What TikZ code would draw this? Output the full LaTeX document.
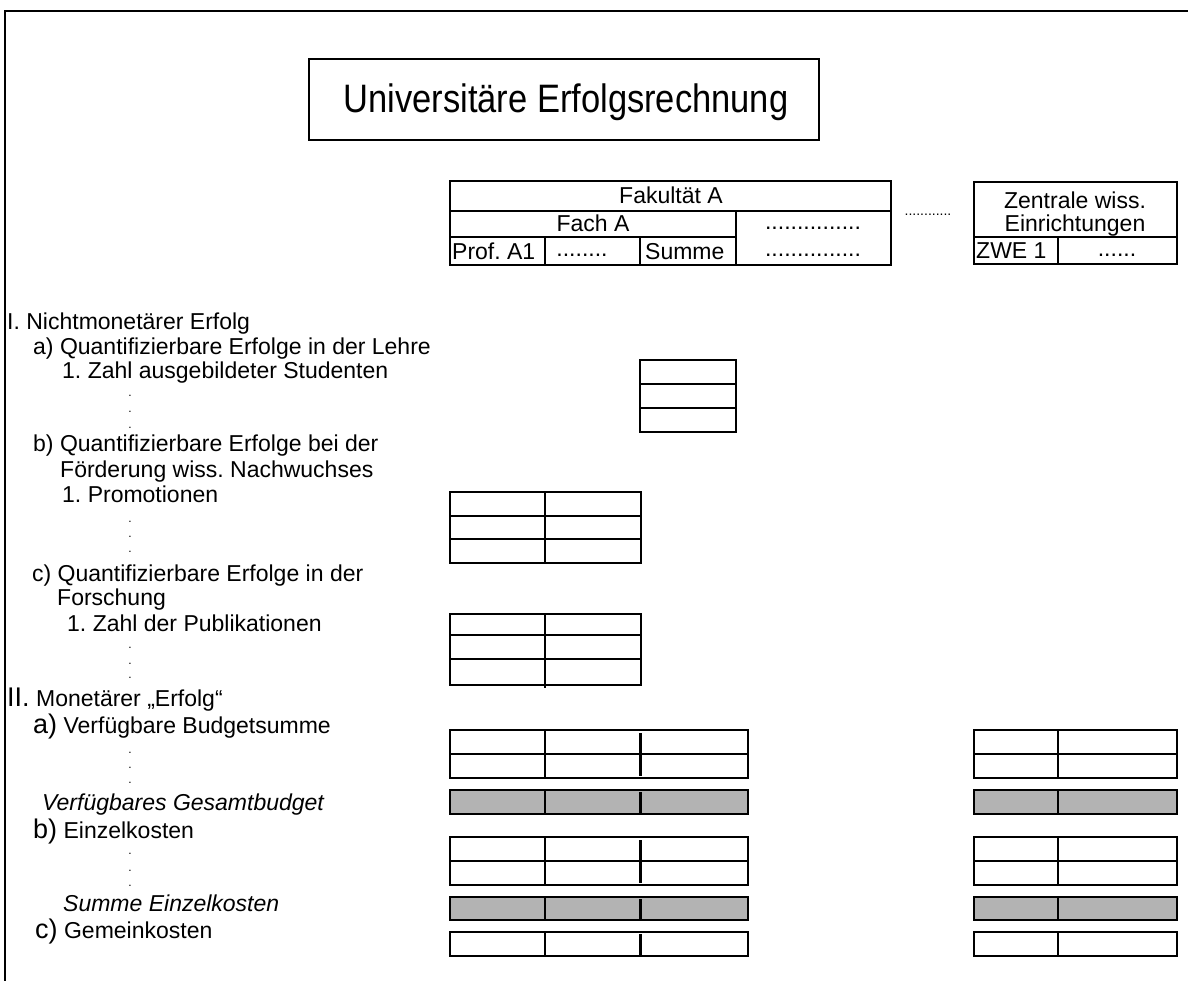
\documentclass[tikz,border=0pt]{standalone}
\usepackage{fontspec}
\usepackage{graphicx}
\setmainfont{Liberation Sans}
\frenchspacing
\newcommand{\fsz}[1]{\fontsize{#1}{#1}\selectfont\frenchspacing}
\definecolor{cellgray}{RGB}{179,179,179}
\begin{document}
\begin{tikzpicture}[x=1pt,y=-1pt,
  tbl/.style={line width=1.2pt, draw=black},
  thickdiv/.style={line width=3pt, draw=black},
  grayrow/.style={tbl, fill=cellgray},
  lbl/.style={anchor=base west, inner sep=0pt, font=\fsz{23}},
  clbl/.style={anchor=base, inner sep=0pt, font=\fsz{23}},
  vdot/.style={anchor=base, inner sep=0pt, font=\fsz{12}}]
\useasboundingbox (0,0) rectangle (1188,981);
% frame
\draw[line width=2pt] (5,981) -- (5,11) -- (1188,11);
% title
\draw[tbl] (309,59) rectangle (819,140);
\node[anchor=base, inner sep=0pt, font=\fsz{34.5}] (title) at (566,113) {\scalebox{1}[1.15]{Universitäre Erfolgsrechnung}};
% Fakultaet header table
\draw[tbl] (450,181) rectangle (891,265);
\draw[tbl] (450,211) -- (891,211);
\draw[tbl] (450,237) -- (736,237);
\draw[tbl] (736,211) -- (736,265);
\draw[tbl] (545,237) -- (545,265);
\draw[tbl] (640,237) -- (640,265);
\node[clbl] (fak) at (671,204) {Fakultät A};
\node[clbl] (fach) at (593,232) {Fach A};
\node[clbl] (fdots1) at (813,230) {...............};
\node[clbl] (fdots2) at (813,257) {...............};
\node[lbl] (profa) at (452,260) {Prof. A1};
\node[clbl] (pdots) at (582,257) {........};
\node[lbl] (summe) at (645,260) {Summe};
% between
\node[anchor=base, inner sep=0pt, font=\fsz{14}] (mdots) at (928,216) {............};
% ZWE table
\draw[tbl] (974,182) rectangle (1177,264);
\draw[tbl] (974,237) -- (1177,237);
\draw[tbl] (1058,237) -- (1058,264);
\node[clbl] (zent) at (1075,209) {Zentrale wiss.};
\node[clbl] (einr) at (1075,232) {Einrichtungen};
\node[lbl] (zwe) at (976,259) {ZWE 1};
\node[clbl] (zdots) at (1117,257) {......};
% left labels
\node[lbl] (l1) at (7,330) {I. Nichtmonetärer Erfolg};
\node[lbl] (l2) at (33,354) {a) Quantifizierbare Erfolge in der Lehre};
\node[lbl] (l3) at (62,378) {1. Zahl ausgebildeter Studenten};
\node[vdot] (d1a) at (130,396) {.};
\node[vdot] (d1b) at (130,412) {.};
\node[vdot] (d1c) at (130,428) {.};
\node[lbl] (l4) at (33,451) {b) Quantifizierbare Erfolge bei der};
\node[lbl] (l5) at (60,477) {Förderung wiss. Nachwuchses};
\node[lbl] (l6) at (62,502) {1. Promotionen};
\node[vdot] (d2a) at (130,522) {.};
\node[vdot] (d2b) at (130,537) {.};
\node[vdot] (d2c) at (130,552) {.};
\node[lbl] (l7) at (32,581) {c) Quantifizierbare Erfolge in der};
\node[lbl] (l8) at (57,605) {Forschung};
\node[lbl] (l9) at (67,631) {1. Zahl der Publikationen};
\node[vdot] (d3a) at (130,648) {.};
\node[vdot] (d3b) at (130,664) {.};
\node[vdot] (d3c) at (130,678) {.};
\node[lbl] (l10) at (7,706) {{\fsz{27}II.} Monetärer „Erfolg“};
\node[lbl] (l11) at (33,733) {{\fsz{27}a)} Verfügbare Budgetsumme};
\node[vdot] (d4a) at (130,753) {.};
\node[vdot] (d4b) at (130,768) {.};
\node[vdot] (d4c) at (130,783) {.};
\node[lbl, font=\fsz{23}\itshape] (l12) at (42,810) {Verfügbares Gesamtbudget};
\node[lbl] (l13) at (33,838) {{\fsz{27}b)} Einzelkosten};
\node[vdot] (d5a) at (130,854) {.};
\node[vdot] (d5b) at (130,871) {.};
\node[vdot] (d5c) at (130,886) {.};
\node[lbl, font=\fsz{23}\itshape] (l14) at (63,911) {Summe Einzelkosten};
\node[lbl] (l15) at (35,938) {{\fsz{27}c)} Gemeinkosten};
% Lehre table
\draw[tbl] (640,360) rectangle (736,432);
\draw[tbl] (640,384) -- (736,384);
\draw[tbl] (640,408) -- (736,408);
% Promotionen table
\draw[tbl] (450,492) rectangle (641,563);
\draw[tbl] (450,516) -- (641,516);
\draw[tbl] (450,539) -- (641,539);
\draw[tbl] (545,492) -- (545,563);
% Publikationen table
\draw[tbl] (450,614) rectangle (641,685);
\draw[tbl] (450,635) -- (641,635);
\draw[tbl] (450,659) -- (641,659);
\draw[tbl] (545,614) -- (545,688);
% monetary tables
\foreach \t/\b in {730/778, 837/885}{
  \draw[tbl] (450,\t) rectangle (748,\b);
  \draw[tbl] (450,{(\t+\b)/2}) -- (748,{(\t+\b)/2});
  \draw[tbl] (545,\t) -- (545,\b);
  \draw[thickdiv] (640,\t+3) -- (640,\b-2);
  \draw[tbl] (974,\t) rectangle (1177,\b);
  \draw[tbl] (974,{(\t+\b)/2}) -- (1177,{(\t+\b)/2});
  \draw[tbl] (1058,\t) -- (1058,\b);
}
\foreach \t/\b/\s in {790/814/grayrow, 897/920/grayrow, 932/956/tbl}{
  \draw[\s] (450,\t) rectangle (748,\b);
  \draw[tbl] (545,\t) -- (545,\b);
  \draw[thickdiv] (640,\t+2) -- (640,\b-1);
  \draw[\s] (974,\t) rectangle (1177,\b);
  \draw[tbl] (1058,\t) -- (1058,\b);
}
\end{tikzpicture}
\end{document}
